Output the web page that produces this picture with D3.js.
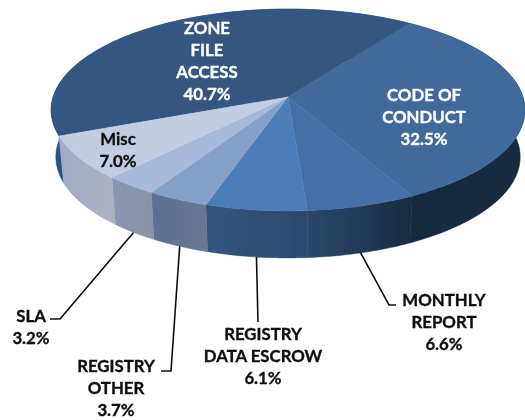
<!DOCTYPE html>
<html>
<head>
<meta charset="utf-8">
<script src="https://cdn.jsdelivr.net/npm/d3@7"></script>
<style>
  body { margin: 0; background: #fff; }
  text { font-family: Lato, "Open Sans", sans-serif; font-weight: 700; font-size: 16.8px; text-anchor: middle; dominant-baseline: central; stroke-width: 0.35px; }
</style>
</head>
<body>
<div id="container"></div>
<script>
/* DATA */
const categories = ["ZONE FILE ACCESS", "CODE OF CONDUCT", "MONTHLY REPORT", "REGISTRY DATA ESCROW", "REGISTRY OTHER", "SLA", "Misc"]
const shares = [40.7, 32.5, 6.6, 6.1, 3.7, 3.2, 7.0]
const labelLines = [
  ["ZONE", "FILE", "ACCESS"],
  ["CODE OF", "CONDUCT"],
  ["MONTHLY", "REPORT"],
  ["REGISTRY", "DATA ESCROW"],
  ["REGISTRY", "OTHER"],
  ["SLA"],
  ["Misc"]
]

/* CONSTANTS AND GLOBALS */
const width = 525, height = 420
const topColors = ["#345780", "#3f6a9b", "#426fa7", "#4c7db9", "#86a0c9", "#a8b8d8", "#c3cde1"]
const sideFrom = ["#2c5282", "#18293f", "#2b486c", "#33567f", "#5c7092", "#8b97b0", "#a0abc4"]
const sideTo = ["#2c5282", "#18293f", "#1a2b40", "#2b486c", "#6b7791", "#8b93a8", "#acb1bf"]
const labelColors = ["#fff", "#fff", "#111", "#111", "#111", "#111", "#111"]
// label centre (x, y of first line), elbow end of leader line
const labelPos = [[207, 27], [424, 94], [444, 299], [263, 333], [116, 365], [31, 315], [118, 138]]
const elbows = [null, null, [[389, 305], [396, 305]], [[258, 322]], [[171, 371], [161, 371]], [[60, 319], [50, 319]], null]
const lineGap = 22

// the tilted disc: circle pushed through a perspective so the apex sits above the ellipse centre
const cx = 288, apexY = 97, persp = -0.1287, spreadY = 86.8, spreadX = 235
const depth = 47, bottomShrink = 0.98

const rimPoint = a => {
  const u = Math.sin(a), v = -Math.cos(a), w = 1 + persp * v
  return [cx + spreadX * u / w, (spreadY * v + apexY) / w]
}
const lowPoint = a => {
  const p = rimPoint(a)
  return [cx + (p[0] - cx) * bottomShrink, p[1] + depth]
}

const pie = d3.pie().sort(null)
  .startAngle(248 * Math.PI / 180)
  .endAngle((248 + 360) * Math.PI / 180)
const arcs = pie(shares)

const steps = (a0, a1) => d3.range(0, 41).map(i => a0 + (a1 - a0) * i / 40)
const lineGen = d3.line()

const svg = d3.select("#container").append("svg")
  .attr("width", width)
  .attr("height", height)

const defs = svg.append("defs")
defs.append("filter").attr("id", "soft")
  .append("feGaussianBlur").attr("stdDeviation", 0.35)

const chart = svg.append("g").attr("filter", "url(#soft)")

// GRADIENTS FOR THE SIDE WALL
arcs.forEach((d, i) => {
  const xs = steps(d.startAngle, d.endAngle)
    .filter(a => -Math.cos(a) > 0.1)
    .map(a => rimPoint(a)[0])
  const g = defs.append("linearGradient")
    .attr("id", `side${i}`)
    .attr("gradientUnits", "userSpaceOnUse")
    .attr("x1", d3.min(xs)).attr("x2", d3.max(xs))
    .attr("y1", 0).attr("y2", 0)
  g.append("stop").attr("offset", 0).attr("stop-color", sideFrom[i])
  g.append("stop").attr("offset", 1).attr("stop-color", sideTo[i])
})

// SIDE WALL
chart.selectAll(".side")
  .data(arcs)
  .join("path")
  .attr("class", "side")
  .attr("fill", (d, i) => `url(#side${i})`)
  .attr("stroke", (d, i) => `url(#side${i})`)
  .attr("stroke-width", 0.5)
  .attr("d", d => {
    const as = steps(d.startAngle, d.endAngle)
    return lineGen([...as.map(rimPoint), ...as.reverse().map(lowPoint)]) + "Z"
  })

// TOP OF THE PIE
chart.selectAll(".slice")
  .data(arcs)
  .join("path")
  .attr("class", "slice")
  .attr("fill", (d, i) => topColors[i])
  .attr("stroke", (d, i) => topColors[i])
  .attr("stroke-width", 0.4)
  .attr("d", d => lineGen([[cx, apexY], ...steps(d.startAngle, d.endAngle).map(rimPoint)]) + "Z")

// LEADER LINES
chart.selectAll(".leader")
  .data(arcs.filter((d, i) => elbows[i]))
  .join("path")
  .attr("class", "leader")
  .attr("fill", "none")
  .attr("stroke", "#111")
  .attr("stroke-width", 1.6)
  .attr("d", d => lineGen([lowPoint((d.startAngle + d.endAngle) / 2), ...elbows[d.index]]))

// LABELS
const labels = chart.selectAll(".label")
  .data(arcs)
  .join("text")
  .attr("class", "label")
  .attr("fill", (d, i) => labelColors[i])
  .attr("stroke", (d, i) => labelColors[i])

labels.selectAll("tspan")
  .data((d, i) => [...labelLines[i], d3.format(".1f")(shares[i]) + "%"].map((t, k) => ({ t, k, i })))
  .join("tspan")
  .attr("x", d => labelPos[d.i][0])
  .attr("y", d => labelPos[d.i][1] + d.k * lineGap)
  .text(d => d.t)
</script>
</body>
</html>
